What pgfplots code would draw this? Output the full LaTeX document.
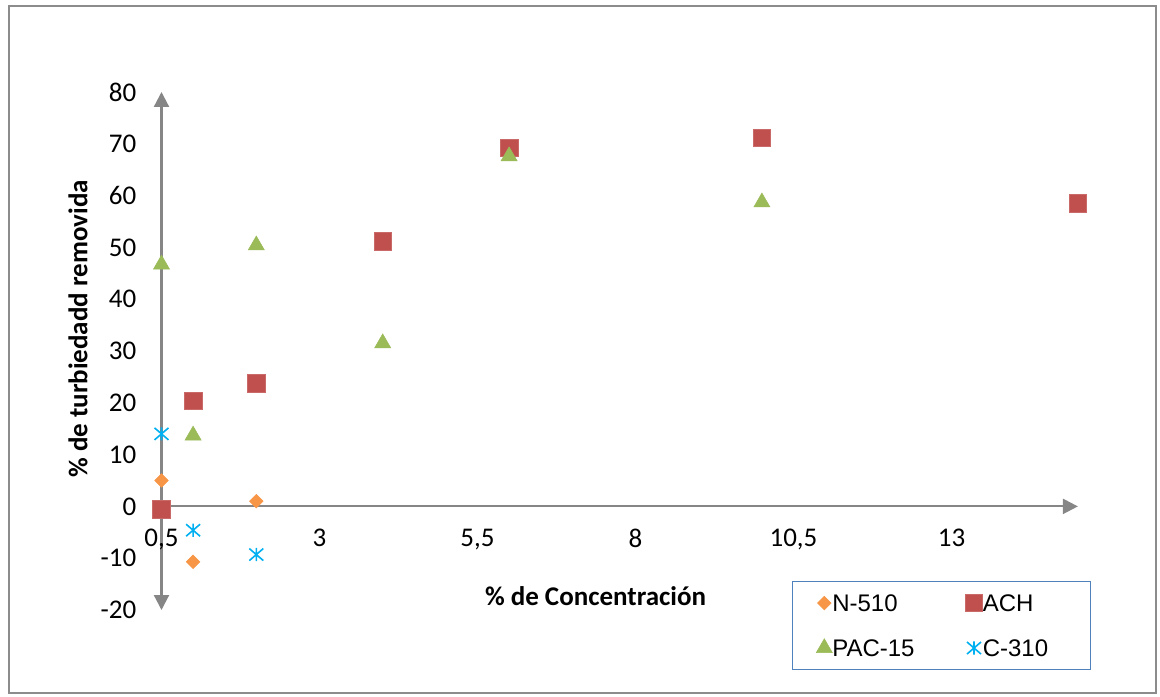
\documentclass[border=0pt]{standalone}
\usepackage{fontspec}
\setmainfont{Carlito}
\newfontfamily\arial{Liberation Sans}
\usepackage{pgfplots}
\pgfplotsset{compat=1.18}
\usetikzlibrary{arrows.meta}
\definecolor{nfive}{HTML}{F79646}
\definecolor{ach}{HTML}{C0504D}
\definecolor{pac}{HTML}{9BBB59}
\definecolor{cthree}{HTML}{00B0F0}
\definecolor{axisgray}{HTML}{868686}
\definecolor{framegray}{HTML}{8C8C8C}
\definecolor{legblue}{HTML}{4F81BD}
\pgfdeclareplotmark{xast}{%
  \pgfpathmoveto{\pgfqpoint{0pt}{-.94\pgfplotmarksize}}%
  \pgfpathlineto{\pgfqpoint{0pt}{.94\pgfplotmarksize}}%
  \pgfpathmoveto{\pgfqpoint{-\pgfplotmarksize}{-.86\pgfplotmarksize}}%
  \pgfpathlineto{\pgfqpoint{\pgfplotmarksize}{.86\pgfplotmarksize}}%
  \pgfpathmoveto{\pgfqpoint{-\pgfplotmarksize}{.86\pgfplotmarksize}}%
  \pgfpathlineto{\pgfqpoint{\pgfplotmarksize}{-.86\pgfplotmarksize}}%
  \pgfusepathqstroke}
\newcommand{\legA}[1]{\makebox[66.35pt][l]{#1}}
\newcommand{\legB}[1]{\makebox[42.3pt][l]{#1}}
\begin{document}
\begin{tikzpicture}
\path[use as bounding box] (0pt,0pt) rectangle (580pt,348pt);
\draw[framegray, line width=0.85pt] (4.5pt,1.5pt) rectangle (578pt,345pt);
\begin{axis}[
  at={(80.75pt,43pt)}, anchor=south west,
  scale only axis, width=458.2pt, height=259pt,
  xmin=0.5, xmax=15, ymin=-20, ymax=80,
  axis x line=middle, axis y line=left,
  hide obscured x ticks=false, hide obscured y ticks=false,
  axis line style={axisgray, line width=1.1pt},
  x axis line style={-{Triangle[width=7.5pt,length=7.5pt]}},
  y axis line style={{Triangle[width=7.5pt,length=7.5pt]}-{Triangle[width=7.5pt,length=7.5pt]}},
  tick style={draw=none},
  major tick length=0pt,
  xtick={0.5,3,5.5,8,10.5,13},
  xticklabels={{0,5},3,{5,5},8,{10,5},13},
  ytick={-20,-10,0,10,20,30,40,50,60,70,80},
  yticklabels={-20,-10,0,10,20,30,40,50,60,70,80},
  xticklabel style={font=\fontsize{13.5}{16}\selectfont, inner sep=0pt, anchor=north, yshift=-11pt},
  yticklabel style={font=\fontsize{13.5}{16}\selectfont, inner sep=0pt, anchor=east, xshift=-12.4pt},
  xlabel={\% de Concentración},
  ylabel={\% de turbiedadd removida},
  xlabel style={at={(axis description cs:0.4736,0.027)}, anchor=center, font=\bfseries\fontsize{13.5}{16}\selectfont},
  ylabel style={at={(axis description cs:-0.0911,0.5425)}, anchor=center, font=\bfseries\fontsize{13.5}{16}\selectfont},
  clip=false,
  legend columns=2,
  legend image code/.code={\draw[#1] plot coordinates {(0pt,0pt)}; \path[draw=none,fill=none] (-4.5pt,-4.4pt) rectangle (4pt,4.4pt);},
  legend style={at={(1.0143,0.056)}, anchor=north east, draw=legblue, line width=0.6pt,
    inner xsep=11.5pt, inner ysep=6.35pt, row sep=13.45pt, column sep=0pt,
    font=\arial\fontsize{12}{14}\selectfont,
    cells={anchor=west},
    nodes={inner sep=0pt, text height=8.6pt, text depth=0pt},
    /tikz/every odd column/.append style={column sep=0pt},
    /tikz/every even column/.append style={column sep=0pt}},
]
\addplot[only marks, mark=square*, mark size=2.4pt, color=nfive, mark options={rotate=45, fill=nfive, draw=nfive, line width=0.3pt}]
  coordinates {(0.5,5.0) (1,-10.7) (2,1.0)};
\addlegendentry{\legA{N-510}}
\addplot[only marks, mark=square*, mark size=4.4pt, color=ach, mark options={fill=ach, draw=ach!85!white, line width=0.4pt}]
  coordinates {(0.5,-0.6) (1,20.4) (2,23.8) (4,51.2) (6,69.2) (10,71.1) (15,58.5)};
\addlegendentry{\legB{ACH}}
\addplot[only marks, mark=triangle*, mark size=4.62pt, color=pac, mark options={fill=pac, draw=pac, line width=0.3pt}]
  coordinates {(0.5,46.7) (1,13.7) (2,50.4) (4,31.5) (6,67.6) (10,58.7)};
\addlegendentry{\legA{PAC-15}}
\addplot[only marks, mark=xast, mark size=3.5pt, color=cthree, mark options={line width=0.8pt}]
  coordinates {(0.5,14.0) (1,-4.6) (2,-9.3)};
\addlegendentry{\legB{C-310}}
\end{axis}
\end{tikzpicture}
\end{document}
